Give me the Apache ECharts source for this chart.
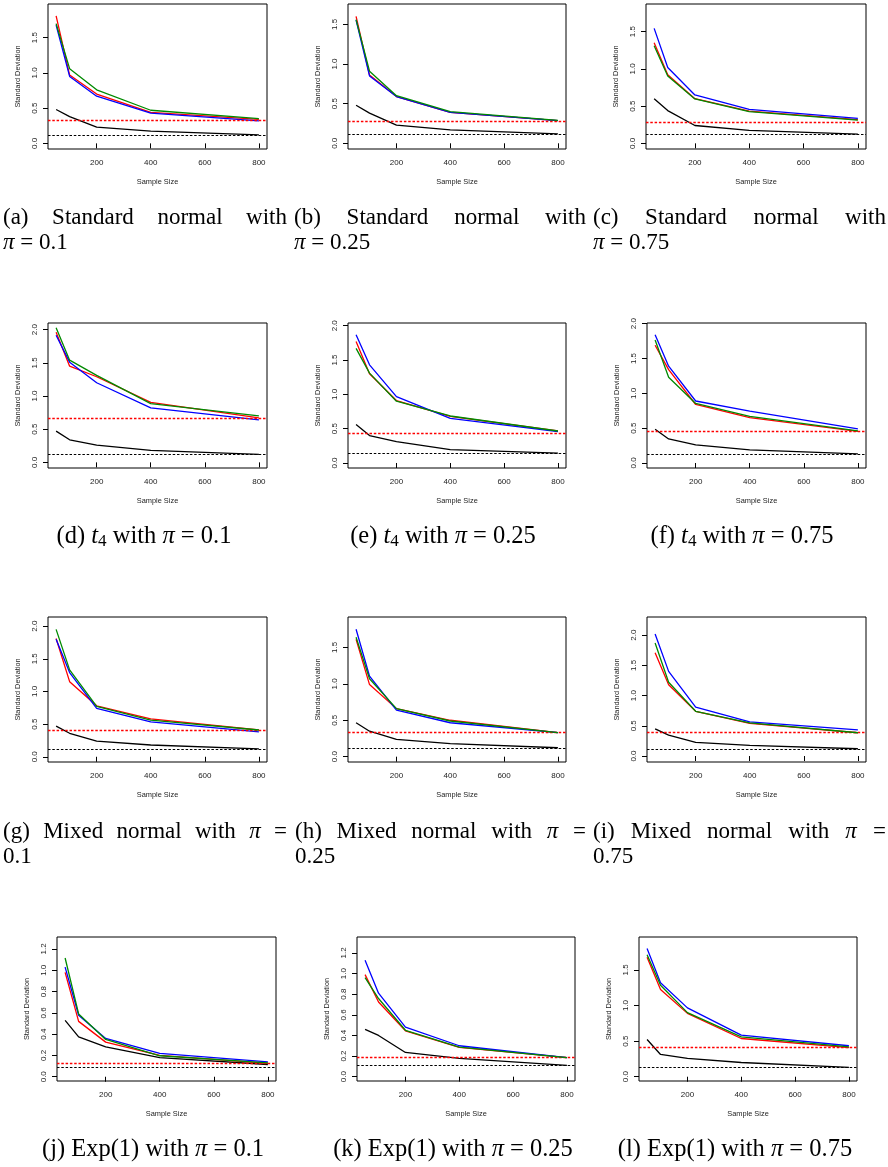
<!DOCTYPE html>
<html><head><meta charset="utf-8">
<script src="https://cdn.jsdelivr.net/npm/echarts@6/dist/echarts.min.js"></script>
<style>html,body{margin:0;padding:0;background:#fff}#c{width:888px;height:1167px}</style>
</head><body><div id="c"></div>
<script>
// ---------------- data ----------------
const sampleSizes = [50, 100, 200, 400, 800];
const xTickValues = [200, 400, 600, 800];
const yTicks15 = [0, 0.5, 1.0, 1.5];
const yTicks20 = [0, 0.5, 1.0, 1.5, 2.0];
const yTicks12 = [0, 0.2, 0.4, 0.6, 0.8, 1.0, 1.2];

// (a) Standard normal, pi = 0.1
const aRed   = [1.81, 0.97, 0.70, 0.44, 0.34];
const aBlue  = [1.68, 0.95, 0.67, 0.43, 0.32];
const aGreen = [1.70, 1.06, 0.76, 0.47, 0.35];
const aBlack = [0.48, 0.38, 0.23, 0.175, 0.12];
// (b) Standard normal, pi = 0.25
const bRed   = [1.60, 0.86, 0.59, 0.39, 0.285];
const bBlue  = [1.555, 0.85, 0.59, 0.39, 0.285];
const bGreen = [1.56, 0.91, 0.60, 0.40, 0.29];
const bBlack = [0.48, 0.38, 0.23, 0.17, 0.12];
// (c) Standard normal, pi = 0.75
const cRed   = [1.35, 0.92, 0.60, 0.434, 0.32];
const cBlue  = [1.545, 1.02, 0.65, 0.457, 0.336];
const cGreen = [1.31, 0.905, 0.596, 0.425, 0.313];
const cBlack = [0.60, 0.44, 0.24, 0.175, 0.125];
// (d) t4, pi = 0.1
const dRed   = [1.96, 1.45, 1.29, 0.905, 0.67];
const dBlue  = [1.915, 1.51, 1.20, 0.82, 0.64];
const dGreen = [2.03, 1.54, 1.31, 0.885, 0.70];
const dBlack = [0.47, 0.34, 0.26, 0.18, 0.12];
// (e) t4, pi = 0.25
const eRed   = [1.77, 1.30, 0.91, 0.68, 0.466];
const eBlue  = [1.87, 1.43, 0.966, 0.65, 0.457];
const eGreen = [1.67, 1.31, 0.90, 0.685, 0.466];
const eBlack = [0.56, 0.40, 0.31, 0.195, 0.145];
// (f) t4, pi = 0.75
const fRed   = [1.69, 1.34, 0.84, 0.65, 0.455];
const fBlue  = [1.84, 1.39, 0.89, 0.745, 0.49];
const fGreen = [1.765, 1.23, 0.855, 0.67, 0.46];
const fBlack = [0.485, 0.345, 0.26, 0.187, 0.13];
// (g) Mixed normal, pi = 0.1
const gRed   = [1.81, 1.15, 0.78, 0.58, 0.41];
const gBlue  = [1.80, 1.29, 0.74, 0.535, 0.38];
const gGreen = [1.95, 1.33, 0.77, 0.56, 0.41];
const gBlack = [0.47, 0.36, 0.24, 0.18, 0.12];
// (h) Mixed normal, pi = 0.25
const hRed   = [1.61, 0.99, 0.66, 0.50, 0.33];
const hBlue  = [1.75, 1.105, 0.64, 0.466, 0.33];
const hGreen = [1.64, 1.07, 0.66, 0.49, 0.33];
const hBlack = [0.466, 0.35, 0.237, 0.178, 0.123];
// (i) Mixed normal, pi = 0.75
const iRed   = [1.71, 1.18, 0.74, 0.54, 0.385];
const iBlue  = [2.02, 1.40, 0.81, 0.566, 0.434];
const iGreen = [1.87, 1.22, 0.74, 0.55, 0.385];
const iBlack = [0.45, 0.346, 0.225, 0.176, 0.12];
// (j) Exp(1), pi = 0.1
const jRed   = [0.98, 0.52, 0.325, 0.20, 0.125];
const jBlue  = [1.03, 0.578, 0.36, 0.22, 0.14];
const jGreen = [1.115, 0.59, 0.35, 0.197, 0.13];
const jBlack = [0.53, 0.375, 0.28, 0.18, 0.115];
// (k) Exp(1), pi = 0.25
const kRed   = [0.99, 0.725, 0.445, 0.284, 0.184];
const kBlue  = [1.13, 0.81, 0.48, 0.30, 0.184];
const kGreen = [0.96, 0.758, 0.45, 0.286, 0.184];
const kBlack = [0.458, 0.40, 0.235, 0.177, 0.11];
// (l) Exp(1), pi = 0.75
const lRed   = [1.68, 1.224, 0.89, 0.537, 0.41];
const lBlue  = [1.80, 1.32, 0.967, 0.584, 0.435];
const lGreen = [1.715, 1.285, 0.90, 0.56, 0.42];
const lBlack = [0.523, 0.313, 0.257, 0.20, 0.13];

// horizontal reference levels, panels a..l
const redRefLevels   = [0.33, 0.285, 0.29, 0.66, 0.44, 0.446, 0.40, 0.338, 0.40, 0.134, 0.187, 0.41];
const blackRefLevels = [0.115, 0.113, 0.12, 0.115, 0.136, 0.125, 0.12, 0.123, 0.12, 0.094, 0.106, 0.126];

// captions
const justifiedLine1 = [
  ['(a)', 'Standard', 'normal', 'with'],
  ['(b)', 'Standard', 'normal', 'with'],
  ['(c)', 'Standard', 'normal', 'with'],
  ['(g)', 'Mixed', 'normal', 'with', 'π', '='],
  ['(h)', 'Mixed', 'normal', 'with', 'π', '='],
  ['(i)', 'Mixed', 'normal', 'with', 'π', '=']
];
const justifiedLine2 = ['{i|π}{n| = 0.1}', '{i|π}{n| = 0.25}', '{i|π}{n| = 0.75}', '{n|0.1}', '{n|0.25}', '{n|0.75}'];
const centeredCaptions = [
  '{n|(d) }{i|t}{s|4}{n| with }{i|π}{n| = 0.1}',
  '{n|(e) }{i|t}{s|4}{n| with }{i|π}{n| = 0.25}',
  '{n|(f) }{i|t}{s|4}{n| with }{i|π}{n| = 0.75}',
  '{n|(j) Exp(1) with }{i|π}{n| = 0.1}',
  '{n|(k) Exp(1) with }{i|π}{n| = 0.25}',
  '{n|(l) Exp(1) with }{i|π}{n| = 0.75}'
];
const xAxisTitle = 'Sample Size';
const yAxisTitle = 'Standard Deviation';

// ---------------- layout ----------------
const panels = [
  {red:aRed, blue:aBlue, green:aGreen, black:aBlack, ticks:yTicks15, yMin:-0.08,  yMax:1.978, left:48,  top:4,   w:219, h:145},
  {red:bRed, blue:bBlue, green:bGreen, black:bBlack, ticks:yTicks15, yMin:-0.072, yMax:1.757, left:348, top:4,   w:218, h:145},
  {red:cRed, blue:cBlue, green:cGreen, black:cBlack, ticks:yTicks15, yMin:-0.076, yMax:1.872, left:646, top:4,   w:220, h:145},
  {red:dRed, blue:dBlue, green:dGreen, black:dBlack, ticks:yTicks20, yMin:-0.085, yMax:2.10,  left:48,  top:323, w:219, h:145},
  {red:eRed, blue:eBlue, green:eGreen, black:eBlack, ticks:yTicks20, yMin:-0.073, yMax:2.04,  left:348, top:323, w:218, h:145},
  {red:fRed, blue:fBlue, green:fGreen, black:fBlack, ticks:yTicks20, yMin:-0.072, yMax:2.01,  left:647, top:323, w:219, h:145},
  {red:gRed, blue:gBlue, green:gGreen, black:gBlack, ticks:yTicks20, yMin:-0.08,  yMax:2.14,  left:48,  top:617, w:219, h:145},
  {red:hRed, blue:hBlue, green:hGreen, black:hBlack, ticks:yTicks15, yMin:-0.073, yMax:1.918, left:348, top:617, w:218, h:145},
  {red:iRed, blue:iBlue, green:iGreen, black:iBlack, ticks:yTicks20, yMin:-0.099, yMax:2.30,  left:647, top:617, w:219, h:145},
  {red:jRed, blue:jBlue, green:jGreen, black:jBlack, ticks:yTicks12, yMin:-0.04,  yMax:1.3125,left:57,  top:937, w:219, h:144},
  {red:kRed, blue:kBlue, green:kGreen, black:kBlack, ticks:yTicks12, yMin:-0.042, yMax:1.355, left:357, top:937, w:218, h:144},
  {red:lRed, blue:lBlue, green:lGreen, black:lBlack, ticks:yTicks15, yMin:-0.06,  yMax:1.963, left:639, top:937, w:218, h:144}
];

const SANS = '"Liberation Sans", Arial, sans-serif';
const SERIF = '"Liberation Serif", "DejaVu Serif", serif';
const CAP_SIZE = 23;
const CAP_SIZE_C = 24.5;
const TXT = '#222';
const COLORS = {red:'#ff0000', blue:'#0000ff', green:'#008a00', black:'#000000'};

const grids = [], xAxes = [], yAxes = [], series = [];
panels.forEach((p, i) => {
  grids.push({left:p.left, top:p.top, width:p.w, height:p.h, show:true, borderColor:'#000', borderWidth:1, backgroundColor:'transparent', containLabel:false});
  xAxes.push({
    type:'value', gridIndex:i, min:20, max:830,
    name:xAxisTitle, nameLocation:'middle', nameGap:29.5,
    nameTextStyle:{fontFamily:SANS, fontSize:7.4, color:TXT},
    axisLine:{show:false},
    axisTick:{show:true, length:5, lineStyle:{color:'#000', width:1}, customValues:xTickValues},
    axisLabel:{show:true, margin:10, fontFamily:SANS, fontSize:8, color:TXT, customValues:xTickValues},
    splitLine:{show:false}
  });
  yAxes.push({
    type:'value', gridIndex:i, min:p.yMin, max:p.yMax,
    name:yAxisTitle, nameLocation:'middle', nameGap:27, nameRotate:90,
    nameTextStyle:{fontFamily:SANS, fontSize:7.3, color:TXT},
    axisLine:{show:false},
    axisTick:{show:true, length:5, lineStyle:{color:'#000', width:1}, customValues:p.ticks},
    axisLabel:{show:true, rotate:90, margin:9, fontFamily:SANS, fontSize:8, color:TXT, customValues:p.ticks,
               formatter:v => Number(v).toFixed(1)},
    splitLine:{show:false}
  });
  const mk = (arr) => sampleSizes.map((x, k) => [x, arr[k]]);
  [['black', p.black], ['red', p.red], ['blue', p.blue], ['green', p.green]].forEach(([c, arr], idx) => {
    const s = {type:'line', xAxisIndex:i, yAxisIndex:i, data:mk(arr), symbol:'none', silent:true, animation:false,
               lineStyle:{color:COLORS[c], width:1.3}, z:2+idx};
    if (c === 'black') {
      s.markLine = {symbol:['none','none'], silent:true, animation:false, label:{show:false},
        data:[
          {yAxis:redRefLevels[i], lineStyle:{color:'#ff0000', type:[2.5,1.8], width:1.3}},
          {yAxis:blackRefLevels[i], lineStyle:{color:'#000', type:[2.5,1.8], width:1.2}}
        ]};
    }
    series.push(s);
  });
});

// ---------------- captions ----------------
const cv = document.createElement('canvas').getContext('2d');
function measure(t, italic) {
  cv.font = (italic ? 'italic ' : '') + CAP_SIZE + 'px ' + SERIF;
  return cv.measureText(t).width;
}
function richFor(size) {
  return {
    n:{fontSize:size, fontFamily:SERIF, lineHeight:26, color:'#000'},
    i:{fontSize:size, fontFamily:SERIF, fontStyle:'italic', lineHeight:26, color:'#000'},
    s:{fontSize:size * 0.7, fontFamily:SERIF, lineHeight:16, verticalAlign:'bottom', color:'#000'}
  };
}
const graphics = [];
// justified captions (rows 1 and 3)
const justCols = [[3,287],[294,586],[593,886],[3,287],[295,586],[593,886]];
const justRowY = [218, 218, 218, 832, 832, 832];
justifiedLine1.forEach((words, ci) => {
  const [x0, x1] = justCols[ci];
  const widths = words.map(w => measure(w, w === 'π'));
  const total = widths.reduce((a, b) => a + b, 0);
  const gap = (x1 - x0 - total) / (words.length - 1);
  let x = x0;
  words.forEach((w, k) => {
    graphics.push({type:'text', x:x, y:justRowY[ci], silent:true,
      style:{text:w, fontSize:CAP_SIZE, fontFamily:SERIF, fontStyle:(w === 'π' ? 'italic' : 'normal'),
             fill:'#000', align:'left', verticalAlign:'middle'}});
    x += widths[k] + gap;
  });
  graphics.push({type:'text', x:x0, y:justRowY[ci] + 25, silent:true,
    style:{text:justifiedLine2[ci], rich:richFor(CAP_SIZE), fill:'#000', align:'left', verticalAlign:'middle'}});
});
// centered captions (rows 2 and 4)
const centerX = [144, 443, 742, 153, 453, 735];
const centerY = [537, 537, 537, 1150, 1150, 1150];
centeredCaptions.forEach((t, ci) => {
  graphics.push({type:'text', x:centerX[ci], y:centerY[ci], silent:true,
    style:{text:t, rich:richFor(CAP_SIZE_C), fill:'#000', align:'center', verticalAlign:'middle'}});
});

const chart = echarts.init(document.getElementById('c'), null, {renderer:'canvas', width:888, height:1167});
chart.setOption({
  animation:false,
  backgroundColor:'#ffffff',
  grid:grids, xAxis:xAxes, yAxis:yAxes, series:series,
  graphic:graphics
});
</script>
</body></html>
